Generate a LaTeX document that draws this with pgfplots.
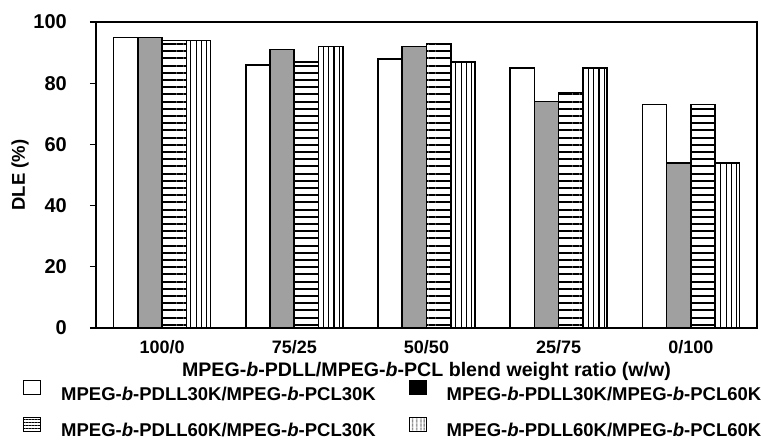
\documentclass[border=0pt]{standalone}
\usepackage{pgfplots}
\pgfplotsset{compat=1.18}
\usepackage{fontspec}
\setmainfont{Liberation Sans}
\usetikzlibrary{patterns.meta}
\definecolor{bargray}{RGB}{160,160,160}
\tikzset{
  hpat/.style={pattern={Lines[angle=0,distance=7.2pt,line width=2pt]}},
  vpat/.style={pattern={Lines[angle=90,distance=5.3pt,line width=1.2pt]}},
}
\newcommand{\B}{\textit{b}}
\begin{document}
\begin{tikzpicture}
\begin{axis}[
  scale only axis, width=661pt, height=306pt,
  ybar=0pt, bar width=0.1834,
  xmin=-0.5, xmax=4.5, ymin=0, ymax=100,
  xtick={0,1,2,3,4}, xticklabels={100/0,75/25,50/50,25/75,0/100},
  ytick={0,20,...,100},
  yticklabels={0,20,40,60,80,100},
  ytick pos=left, tick align=outside, major tick length=6pt,
  x tick style={draw=none},
  y tick style={line width=1.2pt, black},
  axis line style={line width=1.3pt},
  font=\fontsize{18.5pt}{22pt}\selectfont\bfseries,
  /pgf/number format/assume math mode=true,
  every y tick label/.append style={font=\fontsize{20pt}{24pt}\selectfont\bfseries, inner sep=0pt, anchor=east, xshift=-23pt},
  xticklabel style={font=\fontsize{18pt}{22pt}\selectfont\bfseries, inner sep=0pt, anchor=north, yshift=-6pt},
  xlabel={MPEG-\B-PDLL/MPEG-\B-PCL blend weight ratio (w/w)},
  xlabel style={font=\fontsize{19.6pt}{23pt}\selectfont\bfseries, at={(axis description cs:0.5,0)}, anchor=north, yshift=-34pt, inner sep=0pt},
  ylabel={DLE (\%)},
  ylabel style={at={(axis description cs:-0.115,0.5)}, anchor=center, rotate=0, inner sep=0pt},
  legend columns=2,
  legend style={draw=none, fill=none, inner sep=0pt, legend cell align=left,
    at={(axis description cs:-0.1104,-0.170)}, anchor=north west,
    nodes={inner sep=0pt},
    /tikz/every odd column/.append style={column sep=20pt},
    /tikz/every even column/.append style={column sep=33pt},
    row sep=15pt},
]
\addplot[draw=black, line width=1.6pt, fill=white,
  legend image code/.code={\draw[line width=1pt,fill=white] (0pt,-0.5pt) rectangle (17pt,13.5pt);}]
  coordinates {(0,95) (1,86) (2,88) (3,85) (4,73)};
\addlegendentry{MPEG-\B-PDLL30K/MPEG-\B-PCL30K}
\addplot[draw=black, line width=1.6pt, fill=bargray,
  legend image code/.code={\draw[line width=1pt,fill=black] (0pt,-0.5pt) rectangle (17pt,13.5pt);}]
  coordinates {(0,95) (1,91) (2,92) (3,74) (4,54)};
\addlegendentry{MPEG-\B-PDLL30K/MPEG-\B-PCL60K}
\addplot[draw=black, line width=1.6pt, hpat,
  legend image code/.code={\draw[line width=0.8pt,pattern={Lines[angle=0,distance=3pt,line width=0.8pt]}] (0pt,-0.5pt) rectangle (17pt,13.5pt);}]
  coordinates {(0,94) (1,87) (2,93) (3,77) (4,73)};
\addlegendentry{MPEG-\B-PDLL60K/MPEG-\B-PCL30K}
\addplot[draw=black, line width=1.6pt, vpat,
  legend image code/.code={\draw[line width=0.8pt,pattern={Lines[angle=90,distance=4pt,line width=0.8pt]}] (0pt,-0.5pt) rectangle (17pt,13.5pt);}]
  coordinates {(0,94) (1,92) (2,87) (3,85) (4,54)};
\addlegendentry{MPEG-\B-PDLL60K/MPEG-\B-PCL60K}
\end{axis}
\pgfresetboundingbox
\path (current axis.south west) ++(-96pt,-112pt) rectangle ++(761pt,440pt);
\end{tikzpicture}
\end{document}
